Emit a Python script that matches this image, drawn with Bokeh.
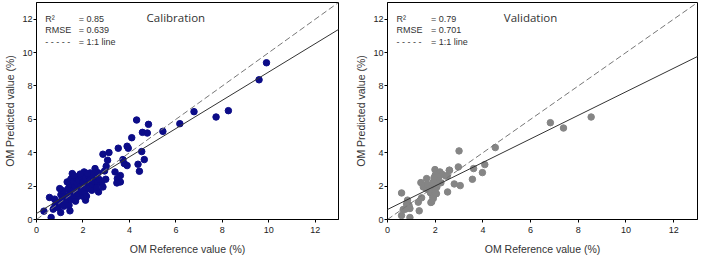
from bokeh.plotting import figure
from bokeh.layouts import row
from bokeh.models import Slope, Label, FixedTicker
from bokeh.embed import file_html
from bokeh.resources import INLINE

# ---------------- data ----------------
cal_x = [9.90, 9.58, 6.78, 7.73, 8.26, 6.17, 5.44, 4.31, 4.82, 4.56, 4.77, 4.10,
         3.52, 3.90, 3.95, 2.86, 3.12, 3.06, 4.53, 4.37, 4.64, 4.43, 3.72, 3.78,
         3.90, 3.00, 3.38, 3.61, 3.48, 3.61, 3.46, 2.93, 2.52, 2.98, 2.80, 2.86,
         2.67, 2.31, 2.05, 1.54, 2.11, 0.56, 0.32, 0.63, 1.04, 1.44,
         0.72, 0.80, 0.88, 0.78, 0.92,
         1.02, 1.10, 1.05, 1.15, 1.00, 1.18, 1.22,
         1.30, 1.35, 1.42, 1.38, 1.45, 1.32, 1.48, 1.50, 1.40,
         1.55, 1.60, 1.65, 1.58, 1.70, 1.62, 1.72, 1.68, 1.75,
         1.80, 1.85, 1.90, 1.82, 1.95, 1.88, 1.98, 1.92, 2.00,
         2.08, 2.12, 2.18, 2.10, 2.25, 2.20, 2.28, 2.15, 2.30,
         2.40, 2.45, 2.55, 2.48, 2.62, 2.38, 2.58, 2.70, 2.65]
cal_y = [9.39, 8.37, 6.46, 6.14, 6.52, 5.74, 5.28, 5.96, 5.70, 5.22, 5.18, 4.90,
         4.27, 4.39, 4.27, 3.91, 4.01, 3.55, 4.07, 3.31, 3.59, 2.89, 3.59, 3.35,
         3.23, 3.19, 2.85, 2.63, 2.45, 2.25, 2.19, 2.91, 3.05, 2.41, 2.17, 1.95,
         1.65, 2.79, 2.85, 2.75, 1.16, 1.32, 0.50, 0.12, 0.42, 0.52,
         0.62, 0.85, 1.05, 1.22, 0.72,
         0.95, 1.20, 1.48, 1.72, 1.85, 0.80, 1.38,
         1.05, 1.35, 1.60, 1.88, 2.10, 2.25, 2.42, 1.20, 0.85,
         1.45, 1.75, 2.00, 2.28, 2.50, 2.62, 1.30, 1.10, 2.15,
         1.55, 1.85, 2.10, 2.35, 2.55, 2.72, 1.40, 1.70, 2.25,
         1.65, 1.95, 2.20, 2.45, 2.62, 2.75, 1.85, 1.40, 2.35,
         2.05, 2.30, 2.50, 2.70, 2.25, 1.75, 1.90, 2.40, 2.80]

val_x = [8.54, 7.38, 6.83, 4.52, 3.00, 4.08, 3.61, 3.98, 3.56, 2.97, 2.59, 2.51,
         2.80, 3.05, 2.52, 1.99, 2.20, 2.00, 2.10, 2.24, 1.92, 1.85, 1.70, 2.07,
         2.05, 1.90, 1.85, 1.40, 1.64, 1.55, 1.62, 1.75, 2.30, 2.45, 2.15, 1.95,
         1.80, 2.00, 1.95, 0.59, 0.84, 0.80, 0.94, 0.66, 1.29, 1.43, 1.33, 0.59,
         0.94, 1.82, 1.92, 2.03, 0.90, 0.75, 1.50, 2.60, 1.68]
val_y = [6.14, 5.48, 5.80, 4.31, 4.11, 3.29, 3.05, 2.81, 2.41, 3.15, 2.95, 2.61,
         2.13, 2.03, 1.65, 2.99, 2.85, 2.65, 2.35, 2.20, 2.25, 2.05, 1.95, 1.95,
         1.55, 1.35, 1.05, 2.21, 2.45, 2.05, 1.85, 1.75, 2.70, 2.60, 2.55, 2.50,
         1.60, 1.80, 1.45, 1.59, 1.16, 0.92, 0.66, 0.60, 1.04, 1.30, 0.52, 0.24,
         0.12, 1.02, 1.26, 1.55, 0.85, 0.62, 1.95, 2.95, 2.10]

cal_fit = [0.36, 0.848]   # intercept, slope
val_fit = [0.60, 0.705]
cal_stats = ["0.85", "0.639"]
val_stats = ["0.79", "0.701"]
titles = ["Calibration", "Validation"]
tick_values = [0, 2, 4, 6, 8, 10, 12]
axis_max = 13

FONT = "Liberation Sans"


def make_panel(xs, ys, fit, stats, title, color, border_right):
    p = figure(width=351, height=258, x_range=(0, axis_max), y_range=(0, axis_max),
               output_backend="svg", toolbar_location=None,
               min_border_left=36, min_border_right=border_right,
               min_border_top=2, min_border_bottom=39)
    p.grid.visible = False
    p.outline_line_color = "black"
    p.outline_line_width = 1
    p.background_fill_color = "white"
    p.border_fill_color = "white"

    for ax in (p.xaxis[0], p.yaxis[0]):
        ax.ticker = FixedTicker(ticks=tick_values)
        ax.major_tick_out = 3
        ax.major_tick_in = 0
        ax.minor_tick_line_color = None
        ax.axis_line_color = "black"
        ax.major_tick_line_color = "black"
        ax.major_label_text_font = FONT
        ax.major_label_text_font_size = "9px"
        ax.major_label_text_color = "#222222"
        ax.axis_label_text_font = FONT
        ax.axis_label_text_font_size = "10.5px"
        ax.axis_label_text_font_style = "normal"
        ax.axis_label_text_color = "#333333"
    p.xaxis.axis_label = "OM Reference value (%)"
    p.yaxis.axis_label = "OM Predicted value (%)"
    p.xaxis.major_label_standoff = 4
    p.xaxis.axis_label_standoff = 7
    p.yaxis.major_label_standoff = 1
    p.yaxis.axis_label_standoff = 3

    # 1:1 line and regression line
    p.add_layout(Slope(gradient=1, y_intercept=0, line_color="#777777",
                       line_width=1, line_dash="6 3"))
    p.add_layout(Slope(gradient=fit[1], y_intercept=fit[0], line_color="#333333",
                       line_width=1))

    p.scatter(xs, ys, size=6.5, fill_color=color, line_color=color)

    # stats block
    rows_y = [12.02, 11.36, 10.62]
    left_txt = ["R\u00b2", "RMSE", "- - - - -"]
    right_txt = [stats[0], stats[1], "1:1 line"]
    for yy, lt, rt in zip(rows_y, left_txt, right_txt):
        p.add_layout(Label(x=0.38, y=yy, text=lt, text_font=FONT, text_font_size="9px",
                           text_baseline="middle", text_color="#333333"))
        p.add_layout(Label(x=1.82, y=yy, text="=", text_font=FONT, text_font_size="9px",
                           text_baseline="middle", text_color="#333333"))
        p.add_layout(Label(x=2.15, y=yy, text=rt, text_font=FONT, text_font_size="9px",
                           text_baseline="middle", text_color="#333333"))

    p.add_layout(Label(x=6.0, y=12.13, text=title, text_font="Open Sans",
                       text_font_size="11.5px", text_font_style="normal",
                       text_align="center", text_baseline="middle", text_color="#333333"))
    return p


p1 = make_panel(cal_x, cal_y, cal_fit, cal_stats, titles[0], "#0c0c88", 13)
p2 = make_panel(val_x, val_y, val_fit, val_stats, titles[1], "#858585", 5)

layout = row(p1, p2)
open("out.html", "w").write(file_html(layout, INLINE))
